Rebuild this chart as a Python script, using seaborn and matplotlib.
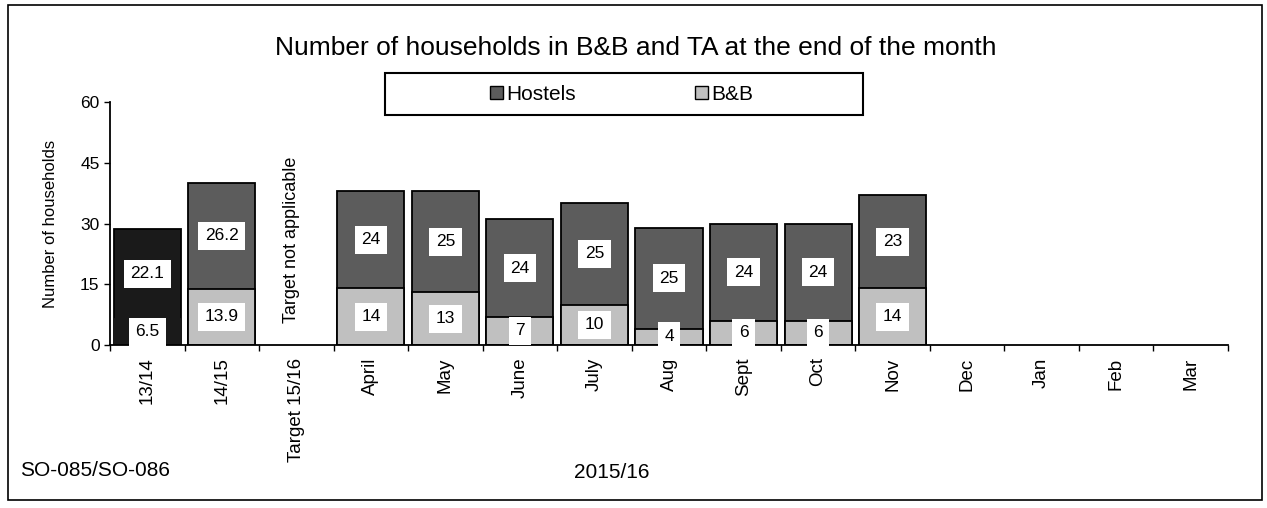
import numpy as np
import pandas as pd
import matplotlib
matplotlib.use("Agg")
import matplotlib.pyplot as plt
import matplotlib.patches as mpatches
import seaborn as sns

categories = ["13/14", "14/15", "Target 15/16", "April", "May", "June", "July",
              "Aug", "Sept", "Oct", "Nov", "Dec", "Jan", "Feb", "Mar"]
hostels = [22.1, 26.2, np.nan, 24, 25, 24, 25, 25, 24, 24, 23,
           np.nan, np.nan, np.nan, np.nan]
bnb = [6.5, 13.9, np.nan, 14, 13, 7, 10, 4, 6, 6, 14,
       np.nan, np.nan, np.nan, np.nan]
yticks = [0, 15, 30, 45, 60]

sns.set_theme(style="white")
plt.rcParams['font.family'] = ['Liberation Sans', 'DejaVu Sans']
for k in ["text.color", "axes.labelcolor", "xtick.color", "ytick.color"]:
    plt.rcParams[k] = "black"

df = pd.DataFrame({"cat": categories, "hostels": hostels, "bnb": bnb})
df["total"] = df["hostels"] + df["bnb"]

W, H = 1267, 508
fig = plt.figure(figsize=(W / 100, H / 100), dpi=100)
ax = fig.add_axes([110 / W, 1 - 345 / H, (1228 - 110) / W, (345 - 102) / H])

host_col = "#5c5c5c"
bnb_col = "#c0c0c0"
dark_col = "#1a1a1a"

sns.barplot(data=df, x="cat", y="total", order=categories, color=host_col,
            width=0.9, edgecolor="black", linewidth=1.3, saturation=1, ax=ax,
            errorbar=None)
sns.barplot(data=df, x="cat", y="bnb", order=categories, color=bnb_col,
            width=0.9, edgecolor="black", linewidth=1.3, saturation=1, ax=ax,
            errorbar=None)

# first bar (13/14) is drawn very dark in the reference
for cont in ax.containers:
    cont.patches[0].set_facecolor(dark_col)
ax.containers[1].patches[0].set_edgecolor(dark_col)

# data labels
lab_kw = dict(ha="center", va="center", fontsize=12.5, color="black",
              bbox=dict(boxstyle="square,pad=0.38", fc="white", ec="none"))
for i, (h, b) in enumerate(zip(hostels, bnb)):
    if np.isnan(h):
        continue
    ax.text(i, b + h / 2, f"{h:g}", **lab_kw)
    ax.text(i, max(b / 2, 2.2), f"{b:g}", **lab_kw)

ax.text(1.93, 26, "Target not applicable", rotation=90, ha="center", va="center",
        fontsize=13)

ax.set_xlim(-0.5, len(categories) - 0.5)
ax.set_ylim(0, 60)
ax.set_yticks(yticks)
ax.set_yticklabels([str(v) for v in yticks], fontsize=12.5)
ax.set_xticks(range(len(categories)))
ax.set_xticklabels(categories, rotation=90, fontsize=13.5)
ax.set_xticks(np.arange(-0.5, len(categories), 1.0), minor=True)
ax.tick_params(axis="x", which="major", bottom=True, length=0, pad=9)
ax.tick_params(axis="x", which="minor", bottom=True, length=4, width=1,
               direction="out", color="black")
ax.tick_params(axis="y", which="major", left=True, length=4, width=1,
               direction="out", color="black")
ax.set_xlabel("")
ax.set_ylabel("Number of households", fontsize=12, labelpad=16)
for s in ["top", "right"]:
    ax.spines[s].set_visible(False)
for s in ["left", "bottom"]:
    ax.spines[s].set_color("black")
    ax.spines[s].set_linewidth(1.3)

fig.text(636 / W, 1 - 48 / H, "Number of households in B&B and TA at the end of the month",
         ha="center", va="center", fontsize=19)

# legend frame + legend
fig.add_artist(mpatches.Rectangle((385 / W, 1 - 115 / H), 478 / W, 42 / H,
                                  transform=fig.transFigure, fill=False,
                                  ec="black", lw=1.5))
handles = [mpatches.Patch(fc=host_col, ec="black", label="Hostels"),
           mpatches.Patch(fc=bnb_col, ec="black", label="B&B")]
fig.legend(handles=handles, loc="center left",
           bbox_to_anchor=(490 / W, 1 - 94 / H), ncol=2, frameon=False,
           fontsize=15, handlelength=0.6, handleheight=0.6, handletextpad=0.2,
           columnspacing=5.7, borderpad=0, borderaxespad=0)

fig.text(20 / W, 1 - 470 / H, "SO-085/SO-086", ha="left", va="center", fontsize=15)
fig.text(612 / W, 1 - 472 / H, "2015/16", ha="center", va="center", fontsize=15)

fig.add_artist(mpatches.Rectangle((8 / W, 1 - 500 / H), (1262 - 8) / W, (500 - 5) / H,
                                  transform=fig.transFigure, fill=False,
                                  ec="black", lw=1.2))

fig.savefig("out.png", dpi=100)
